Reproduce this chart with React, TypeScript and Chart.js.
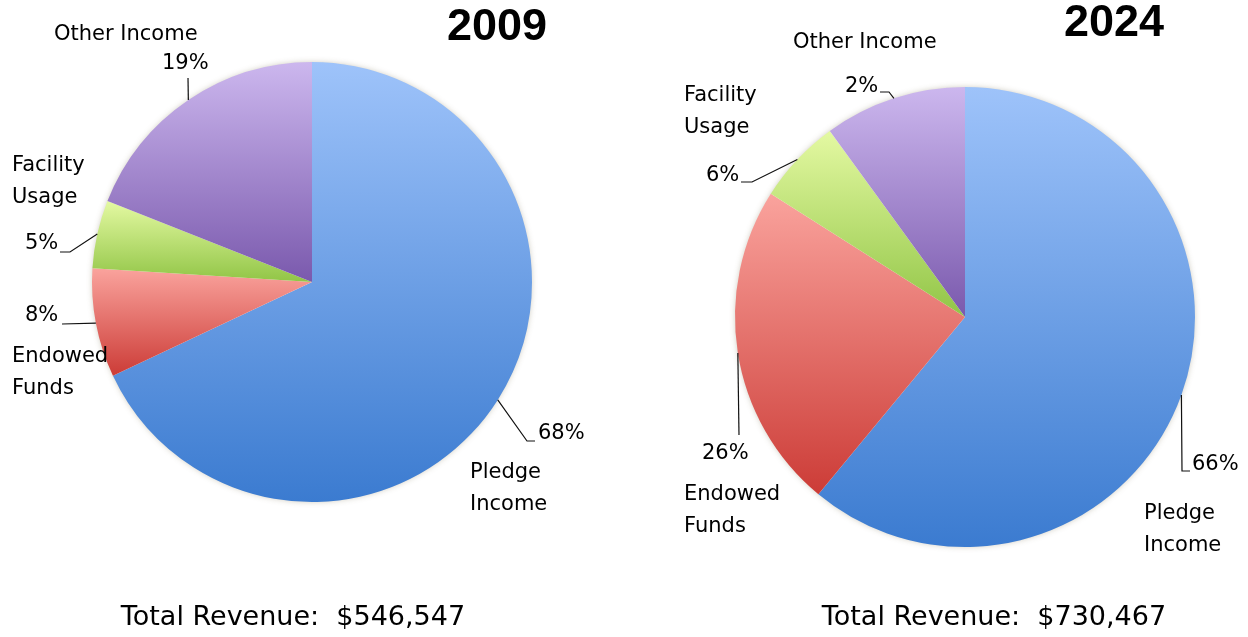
import React, { useEffect, useRef } from "react";
import { Chart, registerables } from "chart.js";

Chart.register(...registerables);

// ---------- data ----------
const categories = ["Pledge Income", "Endowed Funds", "Facility Usage", "Other Income"];
const values2009 = [68, 8, 5, 19];
const pctLabels2009 = ["68%", "8%", "5%", "19%"];
const values2024 = [61, 23, 6, 10];
const pctLabels2024 = ["66%", "26%", "6%", "2%"];
const nameLines = [["Pledge", "Income"], ["Endowed", "Funds"], ["Facility", "Usage"], ["Other Income"]];
const years = ["2009", "2024"];
const totals = ["Total Revenue:  $546,547", "Total Revenue:  $730,467"];

// ---------- styles ----------
const gradTop = ["#9EC3FA", "#FAA39D", "#E4F9A2", "#CCB7EE"];
const gradBottom = ["#3B7BD0", "#CC3C37", "#91C546", "#7A59AD"];
const LABEL_FONT = '21px "DejaVu Sans"';
const TOTAL_FONT = '27px "DejaVu Sans"';
const TITLE_FONT = 'bold 45px "Liberation Sans"';

type Pt = [number, number];
interface SliceLayout { nameX: number; nameY: number; pctX: number; pctY: number; leader: Pt[] }
interface ChartLayout {
  padding: { left: number; right: number; top: number; bottom: number };
  title: Pt;
  total: Pt;
  slices: SliceLayout[];
}

const layouts: ChartLayout[] = [
  {
    padding: { left: 92, right: 716, top: 62, bottom: 135 },
    title: [497, 28],
    total: [293, 618],
    slices: [
      { nameX: 470, nameY: 473, pctX: 538, pctY: 434, leader: [[527, 441], [535, 441]] },
      { nameX: 12, nameY: 357, pctX: 25, pctY: 316, leader: [[62, 324]] },
      { nameX: 12, nameY: 166, pctX: 25, pctY: 244, leader: [[70, 252], [60, 252]] },
      { nameX: 54, nameY: 35, pctX: 162, pctY: 64, leader: [[188, 78]] },
    ],
  },
  {
    padding: { left: 735, right: 53, top: 87, bottom: 90 },
    title: [1114, 24],
    total: [994, 618],
    slices: [
      { nameX: 1144, nameY: 514, pctX: 1192, pctY: 465, leader: [[1182, 471], [1190, 471]] },
      { nameX: 684, nameY: 495, pctX: 702, pctY: 454, leader: [[739, 435]] },
      { nameX: 684, nameY: 96, pctX: 706, pctY: 176, leader: [[752, 182], [741, 182]] },
      { nameX: 793, nameY: 43, pctX: 845, pctY: 87, leader: [[889, 92], [880, 92]] },
    ],
  },
];

function sliceGradient(ctx: any) {
  const chart = ctx.chart;
  const i = ctx.dataIndex;
  const area = chart.chartArea;
  if (!area) return gradBottom[i];
  const data: number[] = ctx.dataset.data;
  const total = data.reduce((a, b) => a + b, 0);
  let cum = 0;
  for (let k = 0; k < i; k++) cum += data[k];
  const cx = (area.left + area.right) / 2;
  const cy = (area.top + area.bottom) / 2;
  const r = Math.min(area.right - area.left, area.bottom - area.top) / 2;
  const start = -Math.PI / 2 + (2 * Math.PI * cum) / total;
  const end = start + (2 * Math.PI * data[i]) / total;
  const ys = [cy, cy + r * Math.sin(start), cy + r * Math.sin(end)];
  for (let k = -2; k <= 4; k++) {
    const a = -Math.PI / 2 + k * Math.PI;
    if (a > start && a < end) ys.push(cy + r * Math.sin(a));
  }
  const y0 = Math.min(...ys);
  const y1 = Math.max(...ys);
  const g = chart.ctx.createLinearGradient(0, y0, 0, y1 + 0.01);
  g.addColorStop(0, gradTop[i]);
  g.addColorStop(1, gradBottom[i]);
  return g;
}

const shadowPlugin = {
  id: "pieShadow",
  beforeDatasetsDraw(chart: any) {
    const meta = chart.getDatasetMeta(0);
    const el = meta.data[0];
    if (!el) return;
    const c = chart.ctx;
    c.save();
    c.beginPath();
    c.arc(el.x, el.y, el.outerRadius - 1, 0, Math.PI * 2);
    c.fillStyle = "#ffffff";
    c.shadowColor = "rgba(120,110,80,0.45)";
    c.shadowBlur = 6;
    c.fill();
    c.restore();
  },
};

const labelPlugin = {
  id: "pieLabels",
  afterDraw(chart: any) {
    const cfg = chart.options.plugins.pieLabels;
    if (!cfg) return;
    const layout: ChartLayout = cfg.layout;
    const c = chart.ctx;
    const meta = chart.getDatasetMeta(0);
    c.save();
    c.fillStyle = "#000";
    c.textBaseline = "middle";
    c.textAlign = "left";
    meta.data.forEach((el: any, i: number) => {
      const s = layout.slices[i];
      const mid = (el.startAngle + el.endAngle) / 2;
      const ax = el.x + el.outerRadius * Math.cos(mid);
      const ay = el.y + el.outerRadius * Math.sin(mid);
      c.beginPath();
      c.moveTo(ax, ay);
      s.leader.forEach((p) => c.lineTo(p[0], p[1]));
      c.strokeStyle = "#111";
      c.lineWidth = 1.2;
      c.stroke();
      c.font = LABEL_FONT;
      c.fillText(cfg.pct[i], s.pctX, s.pctY);
      cfg.names[i].forEach((line: string, j: number) => {
        c.fillText(line, s.nameX, s.nameY + j * 32);
      });
    });
    c.textAlign = "center";
    c.font = TITLE_FONT;
    c.fillText(cfg.title, layout.title[0], layout.title[1]);
    c.font = TOTAL_FONT;
    c.fillText(cfg.total, layout.total[0], layout.total[1]);
    c.restore();
  },
};

function PieCanvas({ values, pct, idx }: { values: number[]; pct: string[]; idx: number }) {
  const ref = useRef<HTMLCanvasElement | null>(null);
  useEffect(() => {
    if (!ref.current) return;
    const layout = layouts[idx];
    const chart = new Chart(ref.current, {
      type: "pie",
      data: {
        labels: categories,
        datasets: [
          {
            data: values,
            backgroundColor: sliceGradient as any,
            borderWidth: 0,
            offset: 0,
            hoverOffset: 0,
          },
        ],
      },
      options: {
        animation: false,
        responsive: false,
        events: [],
        rotation: 0,
        layout: { padding: layout.padding },
        plugins: {
          legend: { display: false },
          tooltip: { enabled: false },
          title: { display: false },
          pieLabels: { layout, pct, names: nameLines, title: years[idx], total: totals[idx] },
        } as any,
      },
      plugins: [shadowPlugin, labelPlugin],
    });
    return () => chart.destroy();
  }, []);
  return (
    <canvas
      ref={ref}
      width={1248}
      height={637}
      style={{ position: "absolute", left: 0, top: 0, width: 1248, height: 637 }}
    />
  );
}

export default function App() {
  return (
    <div style={{ position: "absolute", left: 0, top: 0, width: 1248, height: 637, background: "#fff" }}>
      <PieCanvas values={values2009} pct={pctLabels2009} idx={0} />
      <PieCanvas values={values2024} pct={pctLabels2024} idx={1} />
    </div>
  );
}
